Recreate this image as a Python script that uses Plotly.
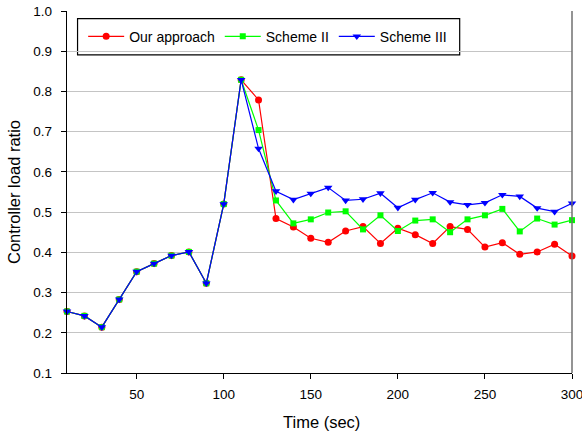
import plotly.graph_objects as go

time = [10, 20, 30, 40, 50, 60, 70, 80, 90, 100, 110, 120, 130, 140, 150, 160, 170, 180, 190, 200,
        210, 220, 230, 240, 250, 260, 270, 280, 290, 300]
common = [0.253, 0.242, 0.214, 0.283, 0.352, 0.372, 0.392, 0.401, 0.323, 0.520, 0.829]
our_tail = [0.779, 0.484, 0.463, 0.435, 0.425, 0.453, 0.464, 0.422, 0.460, 0.444, 0.422, 0.464,
            0.457, 0.413, 0.424, 0.395, 0.401, 0.420, 0.391]
s2_tail = [0.704, 0.529, 0.472, 0.482, 0.499, 0.502, 0.457, 0.492, 0.453, 0.479, 0.482, 0.450,
           0.482, 0.492, 0.508, 0.452, 0.484, 0.469, 0.480]
s3_tail = [0.658, 0.552, 0.531, 0.546, 0.561, 0.529, 0.532, 0.547, 0.511, 0.531, 0.548, 0.525,
           0.518, 0.523, 0.543, 0.539, 0.510, 0.501, 0.522]
our_approach = common + our_tail
scheme_ii = common + s2_tail
scheme_iii = common + s3_tail
x_ticks = [50, 100, 150, 200, 250, 300]

series = [
    ("Our approach", our_approach, "#ff0000", "circle", 7),
    ("Scheme II", scheme_ii, "#00ff00", "square", 6),
    ("Scheme III", scheme_iii, "#0000ff", "triangle-down", 7.5),
]

fig = go.Figure()
for name, vals, col, sym, sz in series:
    fig.add_trace(go.Scatter(x=time, y=vals, name=name, mode="lines+markers",
                             line=dict(color=col, width=1.2),
                             marker=dict(color=col, symbol=sym, size=sz),
                             cliponaxis=False))

font = "Liberation Sans, Arial, sans-serif"
fig.update_layout(
    width=582, height=437,
    margin=dict(l=67, r=10, t=11, b=64, autoexpand=False),
    paper_bgcolor="white", plot_bgcolor="white",
    font=dict(family=font, size=13.5, color="black"),
    showlegend=True,
    legend=dict(orientation="h", x=0.032, y=0.929, xanchor="left", yanchor="middle",
                borderwidth=0, bgcolor="rgba(0,0,0,0)",
                font=dict(size=14, family=font), itemwidth=36),
    xaxis=dict(range=[10, 300], tickvals=x_ticks, automargin=False,
               showgrid=False, showline=True, linecolor="black", linewidth=1.3,
               ticks="outside", ticklen=5, tickcolor="black", tickwidth=1.2, zeroline=False,
               ticklabeloverflow="allow", ticklabelstandoff=4),
    yaxis=dict(range=[0.1, 1.0], dtick=0.1, tickformat=".1f", automargin=False,
               showgrid=True, gridcolor="#c4c4c4", gridwidth=1.2,
               showline=True, linecolor="black", linewidth=1.3,
               ticks="outside", ticklen=5, tickcolor="black", tickwidth=1.2, zeroline=False,
               ticklabelstandoff=6),
)
# right border
fig.add_shape(type="line", xref="paper", yref="paper", x0=1, x1=1, y0=0, y1=1,
              line=dict(color="#707070", width=1.5))
# legend box
fig.add_shape(type="rect", xref="paper", yref="paper", x0=0.0209, x1=0.7776, y0=0.879, y1=0.979,
              line=dict(color="black", width=1.2), fillcolor="white", layer="between")
# axis titles
fig.add_annotation(text="Controller load ratio", xref="paper", yref="paper", x=0, y=0.5,
                   xanchor="center", yanchor="middle", xshift=-53, textangle=-90,
                   showarrow=False, font=dict(size=16.5, family=font))
fig.add_annotation(text="Time (sec)", xref="paper", yref="paper", x=0.5, y=0,
                   xanchor="center", yanchor="middle", yshift=-49, xshift=2,
                   showarrow=False, font=dict(size=16.5, family=font))
fig.write_html("out.html", config={"displayModeBar": False},
               post_script="document.body.style.margin='0';document.body.style.overflow='hidden';")
